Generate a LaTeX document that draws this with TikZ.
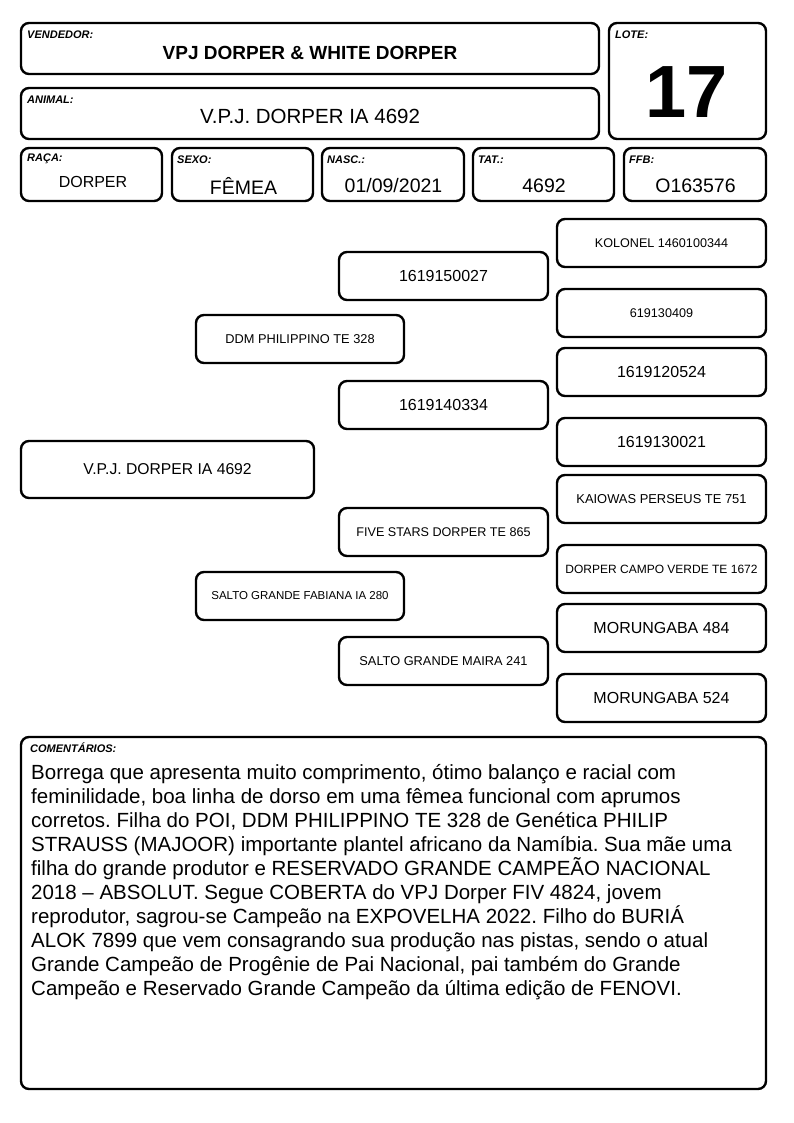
\documentclass[tikz,border=0pt]{standalone}
\usepackage{fontspec}
\setmainfont{Liberation Sans}
\begin{document}
\begin{tikzpicture}[x=1pt,y=-1pt,
  box/.style={draw=black, line width=2.4pt, rounded corners=8pt, fill=white, inner sep=0pt, align=center},
  lbl/.style={anchor=west, inner sep=0pt, font=\fontsize{11}{13}\selectfont\bfseries\itshape},
  val/.style={inner sep=0pt, font=\fontsize{19.5}{23}\selectfont},
  pbig/.style={box, minimum width=209pt, minimum height=48pt, font=\fontsize{16}{19}\selectfont},
  psmall/.style={box, minimum width=209pt, minimum height=48pt, font=\fontsize{12.6}{15}\selectfont}
]
\useasboundingbox (0,0) rectangle (794,1123);
\fill[white] (0,0) rectangle (794,1123);

% header boxes
\node[box, minimum width=578pt, minimum height=51pt] (vend) at (310,48.5) {};
\node[lbl] (vendl) at (27,35) {VENDEDOR:};
\node[inner sep=0pt, font=\fontsize{19}{22}\selectfont\bfseries] (vendv) at (310,53) {VPJ DORPER \& WHITE DORPER};

\node[box, minimum width=578pt, minimum height=51pt] (anim) at (310,113.5) {};
\node[lbl] (animl) at (27,100) {ANIMAL:};
\node[inner sep=0pt, font=\fontsize{20.5}{24}\selectfont] (animv) at (310,116) {V.P.J. DORPER IA 4692};

\node[box, minimum width=157pt, minimum height=116pt] (lote) at (687.5,81) {};
\node[lbl] (lotel) at (615,35) {LOTE:};
\node[inner sep=0pt, font=\fontsize{74}{80}\selectfont\bfseries] (lotev) at (687,92) {17};

% info row
\node[box, minimum width=141pt, minimum height=53pt] (raca) at (91.5,174.5) {};
\node[lbl] (racal) at (27,159) {RAÇA:};
\node[inner sep=0pt, font=\fontsize{16}{19}\selectfont] (racav) at (93,182) {DORPER};

\node[box, minimum width=141pt, minimum height=53pt] (sexo) at (242.5,174.5) {};
\node[lbl] (sexol) at (177,160) {SEXO:};
\node[val] (sexov) at (243.5,186) {FÊMEA};

\node[box, minimum width=142pt, minimum height=53pt] (nasc) at (393,174.5) {};
\node[lbl] (nascl) at (327,160) {NASC.:};
\node[val] (nascv) at (393.5,186) {01/09/2021};

\node[box, minimum width=141pt, minimum height=53pt] (tat) at (543.5,174.5) {};
\node[lbl] (tatl) at (478,160) {TAT.:};
\node[val] (tatv) at (544,186) {4692};

\node[box, minimum width=142pt, minimum height=53pt] (ffb) at (695,174.5) {};
\node[lbl] (ffbl) at (629,160) {FFB:};
\node[val] (ffbv) at (695.5,186) {O163576};

% pedigree
\node[box, minimum width=293pt, minimum height=57pt, font=\fontsize{15.7}{19}\selectfont] (p0) at (167.5,469.5) {V.P.J. DORPER IA 4692};
\node[box, minimum width=208pt, minimum height=48pt, font=\fontsize{12.8}{15}\selectfont] (p1) at (300,339) {DDM PHILIPPINO TE 328};
\node[box, minimum width=208pt, minimum height=48pt, font=\fontsize{11.5}{14}\selectfont] (p2) at (300,596) {SALTO GRANDE FABIANA IA 280};

\node[pbig] (g1) at (443.5,276) {1619150027};
\node[pbig] (g2) at (443.5,405) {1619140334};
\node[psmall] (g3) at (443.5,532) {FIVE STARS DORPER TE 865};
\node[psmall, font=\fontsize{12.8}{15}\selectfont] (g4) at (443.5,661) {SALTO GRANDE MAIRA 241};

\node[psmall] (r1) at (661.5,243) {KOLONEL 1460100344};
\node[psmall] (r2) at (661.5,313) {619130409};
\node[pbig] (r3) at (661.5,372) {1619120524};
\node[pbig] (r4) at (661.5,442) {1619130021};
\node[psmall, font=\fontsize{12.9}{15}\selectfont] (r5) at (661.5,499) {KAIOWAS PERSEUS TE 751};
\node[psmall, font=\fontsize{12}{15}\selectfont] (r6) at (661.5,569) {DORPER CAMPO VERDE TE 1672};
\node[pbig] (r7) at (661.5,628) {MORUNGABA 484};
\node[pbig] (r8) at (661.5,698) {MORUNGABA 524};

% comments
\node[box, minimum width=745pt, minimum height=352pt] (com) at (393.5,913) {};
\node[lbl] (coml) at (30,748) {COMENTÁRIOS:};
\node[anchor=north west, inner sep=0pt, align=left, font=\fontsize{20.5}{24}\selectfont\frenchspacing] (comv) at (31,764) {Borrega que apresenta muito comprimento, ótimo balanço e racial com\\
feminilidade, boa linha de dorso em uma fêmea funcional com aprumos\\
corretos. Filha do POI, DDM PHILIPPINO TE 328 de Genética PHILIP\\
STRAUSS (MAJOOR) importante plantel africano da Namíbia. Sua mãe uma\\
filha do grande produtor e RESERVADO GRANDE CAMPEÃO NACIONAL\\
2018 – ABSOLUT. Segue COBERTA do VPJ Dorper FIV 4824, jovem\\
reprodutor, sagrou-se Campeão na EXPOVELHA 2022. Filho do BURIÁ\\
ALOK 7899 que vem consagrando sua produção nas pistas, sendo o atual\\
Grande Campeão de Progênie de Pai Nacional, pai também do Grande\\
Campeão e Reservado Grande Campeão da última edição de FENOVI.};
\end{tikzpicture}
\end{document}
